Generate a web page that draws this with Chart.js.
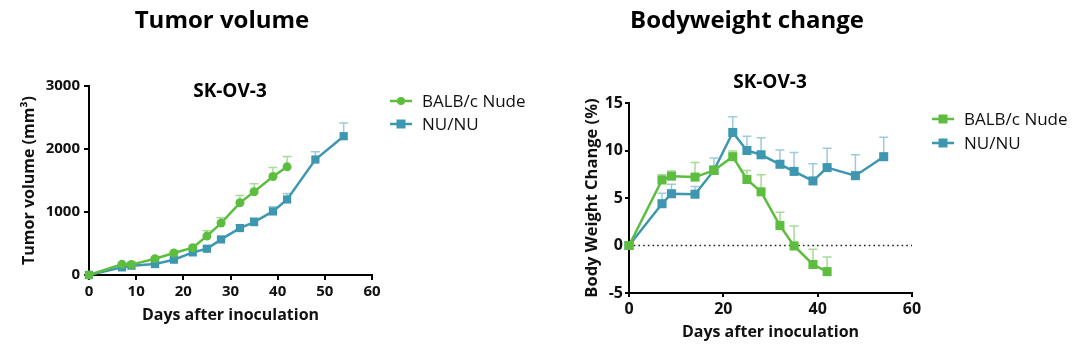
<!DOCTYPE html>
<html><head><meta charset="utf-8">
<script src="https://cdn.jsdelivr.net/npm/chart.js@4.4.0/dist/chart.umd.min.js"></script>
<style>
html,body{margin:0;padding:0;background:#fff;}
#wrap{position:relative;width:1080px;height:351px;overflow:hidden;}
.box{position:absolute;top:0;width:540px;height:351px;}
</style></head><body>
<div id="wrap">
<div class="box" style="left:0"><canvas id="c1" width="540" height="351"></canvas></div>
<div class="box" style="left:540px"><canvas id="c2" width="540" height="351"></canvas></div>
</div>
<script>
// ---------- DATA ----------
const seriesNames = ['BALB/c Nude', 'NU/NU'];
const daysBalb = [0, 7, 9, 14, 18, 22, 25, 28, 32, 35, 39, 42];
const daysNu   = [0, 7, 9, 14, 18, 22, 25, 28, 32, 35, 39, 42, 48, 54];

const tumorBalb    = [0, 169, 165, 259, 349, 433, 618, 824, 1146, 1321, 1564, 1717];
const tumorBalbErr = [0, 25, 20, 25, 30, 30, 85, 85, 117, 126, 142, 164];
const tumorNu      = [0, 121, 148, 174, 243, 359, 417, 565, 745, 840, 1009, 1199, 1833, 2203];
const tumorNuErr   = [0, 15, 15, 20, 25, 30, 30, 35, 50, 69, 74, 95, 122, 211];

const bwBalb    = [0, 6.9, 7.3, 7.2, 7.9, 9.35, 6.95, 5.65, 2.1, -0.05, -2.0, -2.75];
const bwBalbErr = [0, 0.55, 0.55, 1.55, 0.5, 0.6, 0.95, 1.8, 1.4, 2.1, 1.6, 1.55];
const bwNu      = [0, 4.4, 5.45, 5.4, 7.9, 11.9, 10.0, 9.55, 8.55, 7.8, 6.8, 8.2, 7.35, 9.35];
const bwNuErr   = [0, 1.1, 1.0, 0.8, 1.3, 1.65, 1.5, 1.8, 1.5, 2.0, 1.8, 2.05, 2.2, 2.05];

const tumorYTicks = [0, 1000, 2000, 3000];
const tumorXTicks = [0, 10, 20, 30, 40, 50, 60];
const bwYTicks = [-5, 0, 5, 10, 15];
const bwXTicks = [0, 20, 40, 60];

// ---------- STYLE ----------
const FONT = "'Open Sans', 'Noto Sans', sans-serif";
const GREEN = '#5cbd3f';
const GREEN_ERR = 'rgba(92,189,63,0.55)';
const BLUE = '#3d97b1';
const BLUE_ERR = 'rgba(61,151,177,0.5)';

function pts(xs, ys) { return xs.map((x, i) => ({ x: x, y: ys[i] })); }

const errorBarPlugin = {
  id: 'errbars',
  beforeDatasetsDraw(chart) {
    const ctx = chart.ctx, ys = chart.scales.y;
    const zl = chart.options.plugins.errbars && chart.options.plugins.errbars.zeroLine;
    if (zl) {
      const y0 = ys.getPixelForValue(0);
      ctx.save();
      ctx.strokeStyle = '#222'; ctx.lineWidth = 1.6;
      ctx.setLineDash([1.6, 3.1]);
      ctx.beginPath(); ctx.moveTo(chart.chartArea.left, y0); ctx.lineTo(chart.chartArea.right, y0); ctx.stroke();
      ctx.restore();
    }
    chart.data.datasets.forEach((ds, i) => {
      if (!ds.errors) return;
      const meta = chart.getDatasetMeta(i);
      ctx.save();
      ctx.strokeStyle = ds.errorColor; ctx.lineWidth = 1.5;
      meta.data.forEach((pt, j) => {
        const e = ds.errors[j]; if (!e) return;
        const top = ys.getPixelForValue(ds.data[j].y + e);
        ctx.beginPath();
        ctx.moveTo(pt.x, pt.y); ctx.lineTo(pt.x, top);
        ctx.moveTo(pt.x - 4.5, top); ctx.lineTo(pt.x + 4.5, top);
        ctx.stroke();
      });
      ctx.restore();
    });
  }
};

const textPlugin = {
  id: 'texts',
  afterDraw(chart) {
    const o = chart.options.plugins.texts; if (!o) return;
    const ctx = chart.ctx;
    ctx.save();
    ctx.fillStyle = '#000';
    ctx.textAlign = 'center'; ctx.textBaseline = 'middle';
    ctx.font = 'bold 24px ' + FONT;
    ctx.fillText(o.bigTitle, o.bigX, o.bigY);
    ctx.font = 'bold 19px ' + FONT;
    ctx.fillText(o.subTitle, o.subX, o.subY);
    // legend
    ctx.textAlign = 'left';
    ctx.font = '17px ' + FONT;
    o.legend.forEach((it, k) => {
      const y = o.legY + k * o.legGap;
      ctx.strokeStyle = it.color; ctx.lineWidth = 2.5;
      ctx.beginPath(); ctx.moveTo(o.legX, y); ctx.lineTo(o.legX + 22, y); ctx.stroke();
      ctx.fillStyle = it.color;
      const cx = o.legX + 11;
      if (it.shape === 'circle') { ctx.beginPath(); ctx.arc(cx, y, 4, 0, Math.PI * 2); ctx.fill(); }
      else { ctx.fillRect(cx - 4.5, y - 4.5, 9, 9); }
      ctx.fillStyle = '#111';
      ctx.fillText(it.label, o.legX + 32, y + 1);
    });
    ctx.restore();
  }
};

function axisCommon(tickVals, fontSize, tickLen, pad) {
  return {
    type: 'linear',
    min: tickVals[0], max: tickVals[tickVals.length - 1],
    afterBuildTicks(scale) { scale.ticks = tickVals.map(v => ({ value: v })); },
    border: { display: true, color: '#000', width: 2 },
    grid: { display: true, drawOnChartArea: false, drawTicks: true, tickLength: tickLen, color: '#000', lineWidth: 2 },
    ticks: { color: '#111', padding: pad, font: { family: FONT, size: fontSize, weight: 'bold' },
      callback: v => String(v) }
  };
}

function makeChart(id, cfg) {
  const xAxis = axisCommon(cfg.xTicks, cfg.tickFont, cfg.tickLen, cfg.xPad);
  xAxis.afterFit = s => { s.height = cfg.xHeight; };
  xAxis.title = { display: true, text: 'Days after inoculation', color: '#111',
    font: { family: FONT, size: 16, weight: 'bold' }, padding: { top: 0, bottom: cfg.xTitlePad } };
  const yAxis = axisCommon(cfg.yTicks, cfg.tickFont, cfg.tickLen, cfg.yPad);
  yAxis.afterFit = s => { s.width = 89; };
  yAxis.title = { display: true, text: cfg.yTitle, color: '#111',
    font: { family: FONT, size: cfg.yTitleSize, weight: 'bold' }, padding: { top: cfg.yTitlePad, bottom: 0 } };
  return new Chart(document.getElementById(id), {
    type: 'scatter',
    data: {
      datasets: [
        { label: seriesNames[0], data: pts(daysBalb, cfg.balb), errors: cfg.balbErr, errorColor: GREEN_ERR,
          showLine: true, borderColor: GREEN, backgroundColor: GREEN, borderWidth: 2.5,
          pointStyle: cfg.balbShape, pointRadius: cfg.balbRadius, pointBorderWidth: 0, clip: false, order: 0 },
        { label: seriesNames[1], data: pts(daysNu, cfg.nu), errors: cfg.nuErr, errorColor: BLUE_ERR,
          showLine: true, borderColor: BLUE, backgroundColor: BLUE, borderWidth: 2.5,
          pointStyle: 'rect', pointRadius: cfg.nuRadius, pointBorderWidth: 0, clip: false, order: 1 }
      ]
    },
    options: {
      responsive: false, animation: false,
      layout: { padding: { left: 0, right: 168, top: cfg.top, bottom: 0 } },
      scales: { x: xAxis, y: yAxis },
      plugins: {
        legend: { display: false }, tooltip: { enabled: false },
        errbars: { zeroLine: cfg.zeroLine },
        texts: cfg.texts
      }
    },
    plugins: [errorBarPlugin, textPlugin]
  });
}

makeChart('c1', {
  xTicks: tumorXTicks, yTicks: tumorYTicks, tickFont: 15, tickLen: 5, xPad: 3, yPad: 4,
  xHeight: 76, xTitlePad: 26, yTitle: 'Tumor volume (mm³)', yTitleSize: 16, yTitlePad: 20, top: 86,
  balb: tumorBalb, balbErr: tumorBalbErr, nu: tumorNu, nuErr: tumorNuErr,
  balbShape: 'circle', balbRadius: 4.5, nuRadius: 5.8, zeroLine: false,
  texts: { bigTitle: 'Tumor volume', bigX: 222, bigY: 21, subTitle: 'SK-OV-3', subX: 230, subY: 92,
    legX: 390, legY: 101, legGap: 23,
    legend: [{ label: seriesNames[0], color: GREEN, shape: 'circle' }, { label: seriesNames[1], color: BLUE, shape: 'rect' }] }
});

makeChart('c2', {
  xTicks: bwXTicks, yTicks: bwYTicks, tickFont: 16, tickLen: 4, xPad: 3, yPad: 2,
  xHeight: 58, xTitlePad: 9, yTitle: 'Body Weight Change (%)', yTitleSize: 16.5, yTitlePad: 42, top: 103,
  balb: bwBalb, balbErr: bwBalbErr, nu: bwNu, nuErr: bwNuErr,
  balbShape: 'rect', balbRadius: 6.4, nuRadius: 6.4, zeroLine: true,
  texts: { bigTitle: 'Bodyweight change', bigX: 207, bigY: 21, subTitle: 'SK-OV-3', subX: 230, subY: 83,
    legX: 392, legY: 119, legGap: 24,
    legend: [{ label: seriesNames[0], color: GREEN, shape: 'rect' }, { label: seriesNames[1], color: BLUE, shape: 'rect' }] }
});
</script>
</body></html>
